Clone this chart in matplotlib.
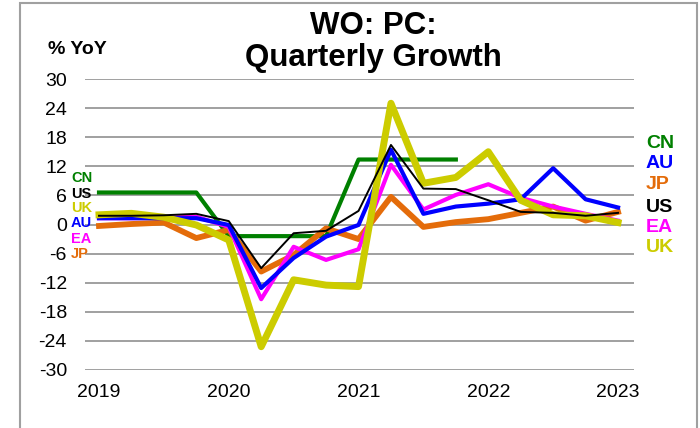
import numpy as np
import matplotlib
matplotlib.use('Agg')
import matplotlib.pyplot as plt
from matplotlib.patches import Rectangle

plt.rcParams['font.family'] = ['Liberation Sans', 'DejaVu Sans']
plt.rcParams['axes.unicode_minus'] = False

# quarterly points, 2019Q1 .. 2023Q1
quarters = ['2019Q1', '2019Q2', '2019Q3', '2019Q4',
            '2020Q1', '2020Q2', '2020Q3', '2020Q4',
            '2021Q1', '2021Q2', '2021Q3', '2021Q4',
            '2022Q1', '2022Q2', '2022Q3', '2022Q4', '2023Q1']
year_labels = ['2019', '2020', '2021', '2022', '2023']

nan = np.nan
cn = [6.6, 6.6, 6.6, 6.6, -2.4, -2.4, -2.4, -2.4, 13.4, 13.4, 13.4, 13.4,
      nan, nan, nan, nan, nan]
us = [1.8, 1.8, 1.9, 2.2, 0.7, -9.0, -1.8, -1.3, 2.8, 16.4, 7.4, 7.3,
      5.0, 2.6, 2.4, 1.8, 2.4]
au = [1.3, 1.3, 1.3, 1.3, -0.1, -13.1, -6.9, -2.5, -0.1, 15.4, 2.2, 3.7,
      4.3, 5.2, 11.6, 5.2, 3.5]
ea = [1.3, 1.3, 1.4, 1.6, -0.5, -15.4, -4.6, -7.3, -5.1, 12.3, 3.1, 6.1,
      8.3, 5.5, 3.7, 2.2, 0.8]
jp = [-0.3, 0.1, 0.4, -2.8, -1.1, -9.7, -6.3, -0.8, -3.0, 5.7, -0.5, 0.5,
      1.1, 2.4, 3.7, 0.8, 2.6]
uk = [2.0, 2.3, 1.5, -0.1, -3.2, -25.2, -11.4, -12.5, -12.8, 25.0, 8.5, 9.7,
      15.0, 5.0, 2.0, 1.8, 0.4]

GREEN = '#008000'
BLUE = '#0000ff'
ORANGE = '#e46c0a'
BLACK = '#000000'
MAGENTA = '#ff00ff'
YELLOW = '#cccc00'

fig = plt.figure(figsize=(7, 4.28), dpi=100)
fig.patches.append(Rectangle((20 / 700, -0.1), 677 / 700, 1.093, transform=fig.transFigure,
                             fill=False, edgecolor='#a0a0a0', linewidth=1.5))
ax = fig.add_axes([85 / 700, 1 - 370 / 428, 549 / 700, 291 / 428])

x = np.arange(len(quarters))
ax.plot(x, cn, color=GREEN, lw=3.0, zorder=3)
ax.plot(x, jp, color=ORANGE, lw=4.2, zorder=4)
ax.plot(x, au, color=BLUE, lw=3.0, zorder=5)
ax.plot(x, ea, color=MAGENTA, lw=3.0, zorder=4.5)
ax.plot(x, uk, color=YELLOW, lw=5.0, zorder=6)
ax.plot(x, us, color=BLACK, lw=1.4, zorder=7)

ax.set_ylim(-30, 30)
ax.set_yticks(np.arange(-30, 31, 6))
ax.set_xlim((85 - 99) / 32.44, (634 - 99) / 32.44)
ax.set_xticks(np.arange(0, len(quarters), 4))
ax.set_xticklabels(year_labels)
ax.grid(axis='y', color='#909090', lw=1.2)
ax.set_axisbelow(True)
for s in ax.spines.values():
    s.set_visible(False)
ax.tick_params(length=0, labelsize=14)
ax.tick_params(axis='x', pad=10)
ax.tick_params(axis='y', pad=13)

fig.text(373 / 700, 1 - 42 / 428, 'WO: PC:\nQuarterly Growth', ha='center', va='center',
         fontsize=22.5, fontweight='bold', linespacing=1.05)
fig.text(48 / 700, 1 - 50 / 428, '% YoY', ha='left', va='center', fontsize=14,
         fontweight='bold')

# left-side labels
left_labels = [('CN', GREEN, 178), ('US', BLACK, 194), ('UK', YELLOW, 208),
               ('AU', BLUE, 223), ('EA', MAGENTA, 239), ('JP', ORANGE, 254)]
for name, c, yy in left_labels:
    fig.text(71 / 700, 1 - yy / 428, name, color=c, fontsize=10.5, fontweight='bold',
             ha='left', va='center')

# right-side labels
right_labels = [('CN', GREEN, 143), ('AU', BLUE, 164), ('JP', ORANGE, 185),
                ('US', BLACK, 207), ('EA', MAGENTA, 228), ('UK', YELLOW, 248)]
for name, c, yy in right_labels:
    fig.text(646 / 700, 1 - yy / 428, name, color=c, fontsize=14, fontweight='bold',
             ha='left', va='center')

fig.savefig('out.png', dpi=100)
